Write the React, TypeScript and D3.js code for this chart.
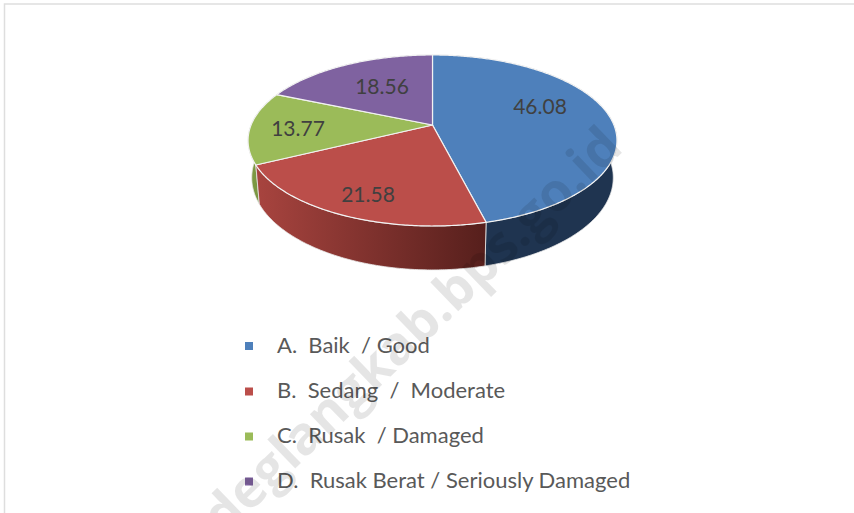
import React from 'react';
import * as d3 from 'd3';

const categories = ['A.  Baik  / Good', 'B.  Sedang  /  Moderate', 'C.  Rusak  / Damaged', 'D.  Rusak Berat / Seriously Damaged'];
const values = [46.08, 21.58, 13.77, 18.56];
const valueLabels = ['46.08', '21.58', '13.77', '18.56'];
const topColors = ['#4e80bb', '#bb4e4a', '#9bbb59', '#7f62a0'];
const wallLeft = ['#1f3450', '#a8443f', '#7f9c45', '#4a3a60'];
const wallRight = ['#1f3450', '#561f1c', '#6f8a3a', '#4a3a60'];
const watermark = 'deglangkab.bps.go.id';

const width = 854;
const height = 513;

// the pie is tilted with perspective, so the apex is not the middle of the ellipse
const apex = { x: 432.5, y: 125 };
const scaleX = 181.4;
const scaleY = 82.7;
const tilt = 0.181;
const depth = 36;
const bottomShrink = 0.98;

// label centres, PowerPoint does not put them on the slice midline
const labelPos = [[540, 107], [368, 195], [298, 129], [382, 87]];
const legendY = [345.5, 390.5, 435.5, 480.5];
const markerY = [346, 391.5, 436.5, 481.5];

const project = (angle: number, r = 1, drop = 0) => {
  const u = r * Math.sin(angle);
  const v = -r * Math.cos(angle);
  const w = 1 - tilt * v;
  const shrink = drop ? bottomShrink : 1;
  return [apex.x + (shrink * scaleX * u) / w, apex.y + (scaleY * v) / w + (drop * depth) / w] as [number, number];
};

const arcAngles = (a0: number, a1: number) => {
  const steps = Math.ceil((a1 - a0) / 0.01);
  return d3.range(steps + 1).map(i => a0 + ((a1 - a0) * i) / steps);
};

const line = d3.line();

const App = () => {
  const slices = d3.pie<number>().sort(null).value(d => d)(values);

  return (
    <svg width={width} height={height} style={{ position: 'absolute', left: 0, top: 0, background: '#fff' }}>
      <defs>
        {slices.map((s, i) => {
          const xs = arcAngles(s.startAngle, s.endAngle).map(a => project(a)[0]);
          return (
            <linearGradient key={i} id={`wall${i}`} gradientUnits="userSpaceOnUse" x1={d3.min(xs)} x2={d3.max(xs)} y1={0} y2={0}>
              <stop offset="0" stopColor={wallLeft[i]} />
              <stop offset="1" stopColor={wallRight[i]} />
            </linearGradient>
          );
        })}
      </defs>

      <path d="M4.5 513V4H854" fill="none" stroke="#dedede" strokeWidth={1.5} />

      {[3, 2, 0, 1].map(i => {
        const angles = arcAngles(slices[i].startAngle, slices[i].endAngle);
        const pts = [...angles.map(a => project(a)), ...angles.slice().reverse().map(a => project(a, 1, 1))];
        return <path key={i} d={line(pts) + 'Z'} fill={`url(#wall${i})`} stroke="#e8e8e8" strokeWidth={0.8} />;
      })}

      {slices.map((s, i) => {
        const pts = [[apex.x, apex.y] as [number, number], ...arcAngles(s.startAngle, s.endAngle).map(a => project(a))];
        return <path key={i} d={line(pts) + 'Z'} fill={topColors[i]} stroke="#f2f2f2" strokeWidth={1.2} strokeLinejoin="round" />;
      })}

      {valueLabels.map((t, i) => (
        <text key={t} x={labelPos[i][0]} y={labelPos[i][1]} dy="0.35em" textAnchor="middle"
          fontFamily="Lato" fontSize={21} fill="#404040">{t}</text>
      ))}

      {categories.map((c, i) => (
        <g key={c}>
          <rect x={245} y={markerY[i] - 4} width={8} height={8} fill={topColors[i]} />
          <text x={277} y={legendY[i]} dy="0.35em" fontFamily="Lato" fontSize={22} fill="#595959"
            style={{ whiteSpace: 'pre' }}>{c}</text>
        </g>
      ))}

      <text transform="translate(625,150) rotate(-44)" textAnchor="end" fontFamily="Open Sans" fontWeight={700}
        fontSize={53} fill="#000" fillOpacity={0.1}>{watermark}</text>
    </svg>
  );
};

export default App;
